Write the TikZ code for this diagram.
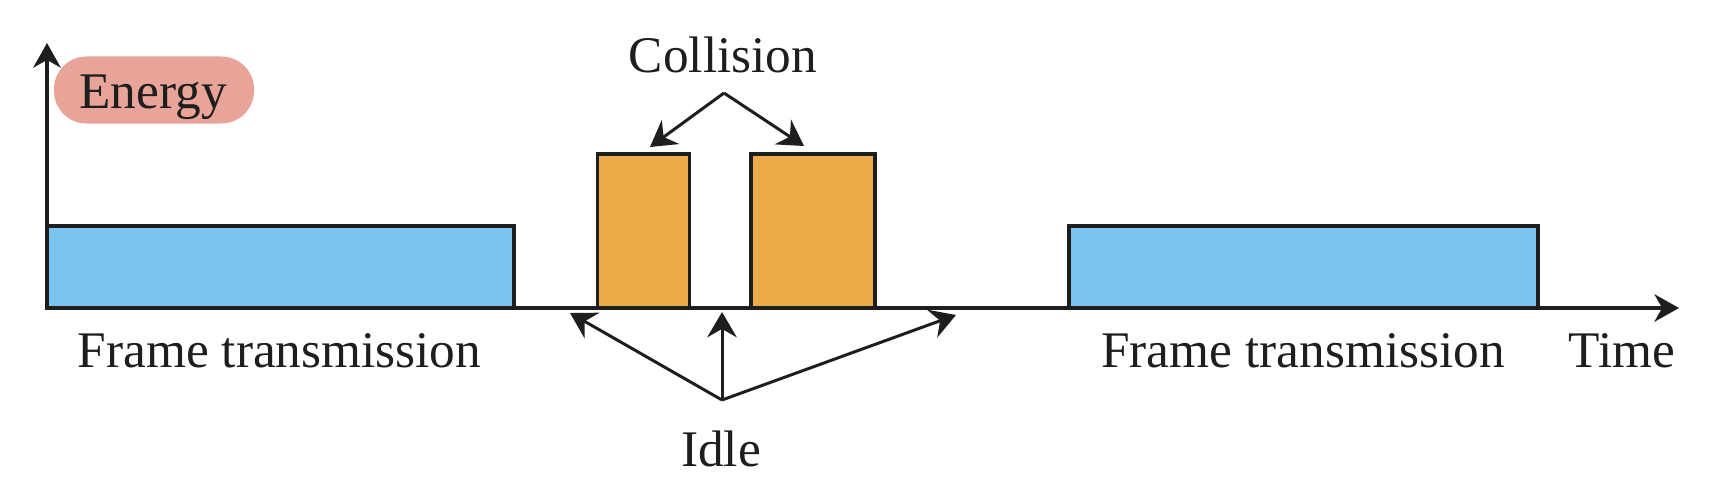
\documentclass[tikz,border=0pt]{standalone}
\usepackage{fontspec}
\setmainfont{Liberation Serif}
\usetikzlibrary{arrows.meta}
\definecolor{frameblue}{RGB}{123,196,239}
\definecolor{collorange}{RGB}{235,171,72}
\definecolor{hlpink}{RGB}{232,164,152}
\definecolor{ink}{RGB}{30,30,30}
\begin{document}
\begin{tikzpicture}[x=0.01cm,y=-0.01cm,
  lbl/.style={font=\fontsize{14.6}{17}\selectfont, text=ink, inner sep=0pt, anchor=base},
  box/.style={draw=ink, line width=1pt, inner sep=0pt},
  bluebox/.style={box, fill=frameblue, minimum width=4.67cm, minimum height=0.82cm},
  orangebox/.style={box, fill=collorange, minimum height=1.54cm},
  axis/.style={draw=ink, line width=1.1pt, -{Stealth[length=7pt,width=7.8pt,inset=2.2pt]}},
  conn/.style={draw=ink, line width=0.85pt, -{Stealth[length=7.2pt,width=8.4pt,inset=2.4pt]}},
  pill/.style={fill=hlpink, rounded corners=9.3pt, minimum width=2.0cm, minimum height=0.67cm, inner sep=0pt}
]
\useasboundingbox (0,0) rectangle (1710,488);
% highlight behind Energy
\node[pill] (energybg) at (154,90) {};
\node[lbl] (energy) at (153,109) {Energy};
% boxes
\node[bluebox] (fb1) at (280.5,267) {};
\node[orangebox, minimum width=0.92cm] (cb1) at (643.5,231) {};
\node[orangebox, minimum width=1.24cm] (cb2) at (813,231) {};
\node[bluebox, minimum width=4.69cm] (fb2) at (1303.5,267) {};
% axes
\coordinate (origin) at (47,308);
\coordinate (ytip) at (47,43);
\coordinate (xtip) at (1679,308);
\draw[axis] (origin) -- (ytip);
\draw[axis] (origin) -- (xtip);
% labels
\node[lbl] (ft1) at (279.5,367) {Frame transmission};
\node[lbl] (ft2) at (1303,367) {Frame transmission};
\node[lbl] (time) at (1622,367) {Time};
\node[lbl] (coll) at (723,73) {Collision};
\node[lbl] (idle) at (721,466) {Idle};
% collision arrows
\coordinate (capex) at (724,93);
\coordinate (ctip1) at (650,147);
\coordinate (ctip2) at (804,146);
\draw[conn] (capex) -- (ctip1);
\draw[conn] (capex) -- (ctip2);
% idle arrows
\coordinate (iapex) at (722,400);
\coordinate (itip1) at (570,313);
\coordinate (itip2) at (722,312);
\coordinate (itip3) at (956,315);
\draw[conn] (iapex) -- (itip1);
\draw[conn] (iapex) -- (itip2);
\draw[conn] (iapex) -- (itip3);
\end{tikzpicture}
\end{document}
